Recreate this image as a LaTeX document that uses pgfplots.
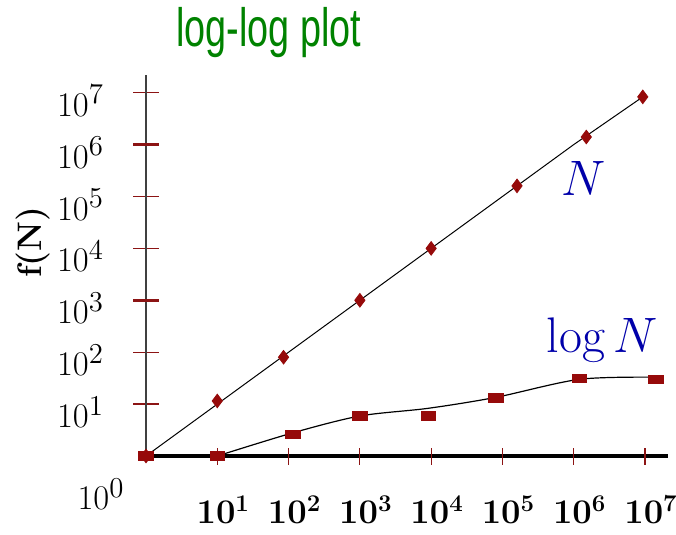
\documentclass[border=0pt]{standalone}
\usepackage{pgfplots}
\pgfplotsset{compat=1.18}
\usepackage{graphicx}
\usepackage{fontspec}
\newfontfamily\titlefont{Liberation Sans}
\definecolor{tickred}{RGB}{140,20,20}
\definecolor{mkred}{RGB}{150,10,10}
\definecolor{lblue}{RGB}{0,0,170}
\definecolor{tgreen}{RGB}{0,130,0}
\begin{document}
\begin{tikzpicture}
\begin{axis}[
  xmode=log, ymode=log,
  scale only axis, width=261pt, height=190.5pt,
  xmin=1, xmax=2.1e7, ymin=1, ymax=2.19e7,
  axis lines=left, axis line style={-},
  x axis line style={line width=1.6pt, black},
  y axis line style={line width=0.7pt, black!75},
  xtick=\empty,
  ytick={10,100,1000,1e4,1e5,1e6,1e7},
  minor tick style={draw=none},
  tick align=center,
  major tick length=13pt,
  tick style={tickred, line width=0.6pt},
  extra x ticks={10,100,1000,1e4,1e5,1e6,1e7},
  extra x tick style={major tick length=8.5pt, tick style={tickred, line width=0.6pt},
    xticklabel style={font=\fontsize{17}{20}\selectfont\boldmath, anchor=north, yshift=-12pt, xshift=3pt}},
  extra y ticks={1000,1e6},
  extra y tick style={tick style={tickred,line width=1.5pt}, yticklabels={}},
  yticklabel style={font=\fontsize{19}{21}\selectfont, anchor=east, xshift=-11pt, yshift=-4pt},
  clip=false,
]
% N series line
\addplot[black, line width=0.5pt] coordinates {(1,1) (10,10) (100,100) (1000,1000) (1e4,1e4) (1e5,1e5) (1e6,1e6) (9.3e6,8.3e6)};
% N markers
\addplot[only marks, mark=diamond*, mark size=3.4pt, mark options={fill=mkred, draw=mkred}]
  coordinates {(1,1) (10,11.5) (85,80) (1000,1000) (1e4,1e4) (1.6e5,1.6e5) (1.5e6,1.4e6) (9.3e6,8.3e6)};
% log N line
\addplot[black, line width=0.6pt, smooth] coordinates {(10,1) (115,2.8) (1000,5.9) (9100,8.3) (81000,13.5) (1.2e6,30) (1.42e7,33)};
% log N markers
\addplot[only marks, mark=square*, mark size=2.1pt, mark options={fill=mkred, draw=mkred, xscale=1.7}]
  coordinates {(1,1) (10,1) (115,2.6) (1000,5.9) (9100,5.9) (81000,13.2) (1.2e6,31.6) (1.42e7,30.2)};
\node[text=lblue, font=\fontsize{25}{30}\selectfont] at (axis cs:1.38e6,2.19e5) {$N$};
\node[text=lblue, font=\fontsize{25}{30}\selectfont, anchor=base] at (axis cs:2.5e6,96.6) {$\log N$};
\node[anchor=base, text=tgreen] at ([shift={(61.5pt,14pt)}]rel axis cs:0,1) {\titlefont\fontsize{27}{30}\selectfont\scalebox{0.70}[1]{log-log plot}};
\node[rotate=90, font=\fontsize{17}{19}\selectfont\bfseries] at ([shift={(-56.5pt,107pt)}]rel axis cs:0,0) {f(N)};
\node[font=\fontsize{19}{21}\selectfont] at ([shift={(-22.5pt,-19pt)}]rel axis cs:0,0) {$10^0$};
\coordinate (BL) at ([shift={(-73pt,-39pt)}]rel axis cs:0,0);
\coordinate (TR) at ([shift={(4pt,37.5pt)}]rel axis cs:1,1);
\end{axis}
\pgfresetboundingbox
\path[use as bounding box] (BL) rectangle (TR);
\end{tikzpicture}
\end{document}
